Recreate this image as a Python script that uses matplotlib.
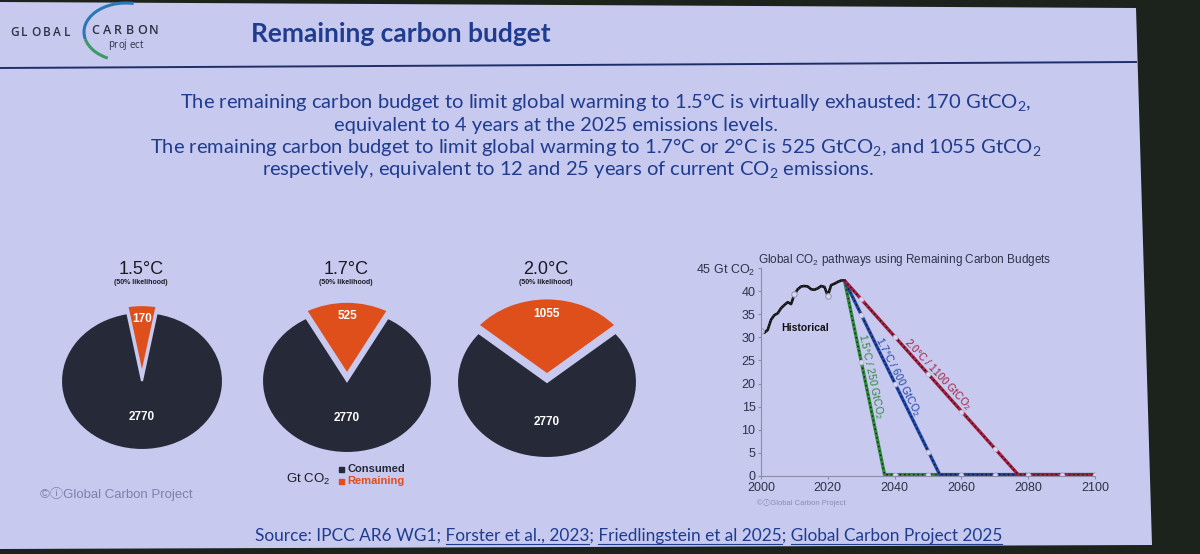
import matplotlib.pyplot as plt
from matplotlib.patches import Polygon, Arc, Rectangle

W, H = 1200, 554
SLIDE = '#c7c9ef'
OUTSIDE = '#1c221c'
NAVY = '#1f3c8e'
PIE_DARK = '#262938'
PIE_ORANGE = '#df4f1c'
GREEN = '#2f8a3c'
BLUE = '#1f45a8'
RED = '#a3203f'
SANS = ['Liberation Sans', 'Noto Sans CJK JP', 'DejaVu Sans']
SLIDEFONT = ['Lato', 'DejaVu Sans']

# ---- data ----
pie_titles = ['1.5°C', '1.7°C', '2.0°C']
consumed = [2770, 2770, 2770]
remaining = [170, 525, 1055]

hist_years = list(range(2000, 2026))
hist_vals = [31.4, 31.0, 31.6, 33.8, 34.8, 35.2, 36.3, 37.0, 37.6, 37.2,
             39.3, 40.4, 41.0, 41.1, 41.0, 40.4, 40.3, 40.6, 41.1, 40.9,
             39.0, 41.3, 41.6, 42.0, 42.3, 42.3]
hist_mark_years = [2000, 2010, 2020]
hist_mark_vals = [31.4, 39.3, 39.0]

path_labels = ['1.5°C / 250 GtCO$_\\mathregular{2}$',
               '1.7°C / 600 GtCO$_\\mathregular{2}$',
               '2.0°C / 1100 GtCO$_\\mathregular{2}$']
path_years = [[2025, 2037, 2100], [2025, 2053.5, 2100], [2025, 2077, 2100]]
path_vals = [[42.3, 0.3, 0.3], [42.3, 0.3, 0.3], [42.3, 0.3, 0.3]]
mark_years = [2030, 2040, 2050, 2060, 2070, 2080, 2090, 2100]
mark_vals = [[24.7, 0.3, 0.3, 0.3, 0.3, 0.3, 0.3, 0.3],
             [34.9, 20.0, 5.2, 0.3, 0.3, 0.3, 0.3, 0.3],
             [38.2, 30.1, 22.0, 13.9, 5.8, 0.3, 0.3, 0.3]]
path_colors = [GREEN, BLUE, RED]

body_lines = [
    'The remaining carbon budget to limit global warming to 1.5°C is virtually exhausted: 170 GtCO$_\\mathregular{2}$,',
    'equivalent to 4 years at the 2025 emissions levels.',
    'The remaining carbon budget to limit global warming to 1.7°C or 2°C is 525 GtCO$_\\mathregular{2}$, and 1055 GtCO$_\\mathregular{2}$',
    'respectively, equivalent to 12 and 25 years of current CO$_\\mathregular{2}$ emissions.',
]
source_parts = ['Source: IPCC AR6 WG1; ', 'Forster et al., 2023', '; ',
                'Friedlingstein et al 2025', '; ', 'Global Carbon Project 2025']

fig = plt.figure(figsize=(12, 5.54), dpi=100, facecolor=OUTSIDE)
bg = fig.add_axes([0, 0, 1, 1])
bg.set_xlim(0, W)
bg.set_ylim(H, 0)
bg.axis('off')
bg.set_facecolor(OUTSIDE)
bg.add_patch(Polygon([(0, 2), (1136, 8), (1152, 545), (0, 549)], closed=True,
                     facecolor=SLIDE, edgecolor='none'))
bg.plot([0, 1136], [68, 62], color='#1d2f6a', lw=1.4)

# logo
for i, ch in enumerate('GLOBAL'):
    bg.text(10 + i * 10.8, 33, ch, fontsize=8.5, color='#2b3344', fontweight='semibold',
            family=['Open Sans'], va='center')
for i, ch in enumerate('CARBON'):
    bg.text(91 + i * 11.6, 31, ch, fontsize=9, color='#2b3344', fontweight='semibold',
            family=['Open Sans'], va='center')
for i, ch in enumerate('project'):
    bg.text(108 + i * 5.3, 45, ch, fontsize=7, color='#2b3344',
            family=['Open Sans'], va='center')
bg.add_patch(Arc((126, 32), 84, 58, theta1=170, theta2=285, color='#2a77b8', lw=2.2))
bg.add_patch(Arc((126, 32), 84, 58, theta1=125, theta2=170, color='#3c9a62', lw=2.2))

bg.text(401, 34, 'Remaining carbon budget', fontsize=19, fontweight='bold',
        color=NAVY, family=SLIDEFONT, ha='center', va='center')

for txt, cx, cy in zip(body_lines, [606, 556, 596, 568], [103, 125, 148, 170]):
    bg.text(cx, cy, txt, fontsize=14.5, color=NAVY, family=SLIDEFONT,
            ha='center', va='center')

# source line with underlines
renderer = fig.canvas.get_renderer()
src = ''.join(source_parts)
sx, sy = 255, 541
bg.text(sx, sy, src, fontsize=12.4, color=NAVY, family=SLIDEFONT, va='baseline')
prefix = ''
for i, part in enumerate(source_parts):
    prefix += part
    if i % 2 == 1:
        t1 = bg.text(0, 0, prefix, fontsize=12.4, family=SLIDEFONT)
        t2 = bg.text(0, 0, part, fontsize=12.4, family=SLIDEFONT)
        x1 = sx + t1.get_window_extent(renderer).width
        x0 = x1 - t2.get_window_extent(renderer).width
        t1.remove()
        t2.remove()
        bg.plot([x0, x1], [sy + 2.5, sy + 2.5], color=NAVY, lw=0.8)

# pies (drawn slightly squashed, as the photographed slide shows them)
pie_geom = [(142, 381, 81, 69), (347, 381, 85, 72), (547, 382, 90, 76)]
for i, (cx, cy, rx, ry) in enumerate(pie_geom):
    s = 1.45
    ax = fig.add_axes([(cx - s * rx) / W, 1 - (cy + s * ry) / H, 2 * s * rx / W, 2 * s * ry / H])
    frac = remaining[i] / (remaining[i] + consumed[i])
    ax.pie([remaining[i], consumed[i]], colors=[PIE_ORANGE, PIE_DARK],
           startangle=90 - 180 * frac, explode=[0.1, 0],
           wedgeprops=dict(edgecolor=SLIDE, linewidth=1.5))
    ax.set_aspect('auto')
    ax.set_xlim(-s, s)
    ax.set_ylim(-s, s)
    ax.patch.set_alpha(0)
    ax.text(0, 0.9, str(remaining[i]), color='white', fontsize=8.5,
            fontweight='bold', family=SANS, ha='center', va='center')
    ax.text(0, -0.52, str(consumed[i]), color='white', fontsize=8.5,
            fontweight='bold', family=SANS, ha='center', va='center')
    bg.text(cx - 1, 270, pie_titles[i], fontsize=13, color='#1a1a24',
            family=SANS, ha='center', va='center')
    bg.text(cx - 1, 282, '(50% likelihood)', fontsize=5, fontweight='bold',
            color='#1a1a24', family=SANS, ha='center', va='center')

# pie legend
bg.text(286, 479, 'Gt CO$_\\mathregular{2}$', fontsize=9.5, color='#1a1a24',
        family=SANS, va='center')
bg.add_patch(Rectangle((339, 467), 5, 5, color=PIE_DARK))
bg.add_patch(Rectangle((339, 479), 5, 5, color=PIE_ORANGE))
bg.text(347, 469, 'Consumed', fontsize=8, fontweight='bold', color=PIE_DARK,
        family=SANS, va='center')
bg.text(347, 481, 'Remaining', fontsize=8, fontweight='bold', color=PIE_ORANGE,
        family=SANS, va='center')
bg.text(40, 494, '©ⓘGlobal Carbon Project', fontsize=9.5, color='#7f82a8',
        family=SANS, va='center')

# line chart
ax = fig.add_axes([761 / W, 1 - 476 / H, (1095 - 761) / W, (476 - 268) / H])
ax.patch.set_alpha(0)
ax.set_xlim(2000, 2100)
ax.set_ylim(0, 45)
for sp in ['top', 'right']:
    ax.spines[sp].set_visible(False)
for sp in ['left', 'bottom']:
    ax.spines[sp].set_color('#8c8ca6')
    ax.spines[sp].set_linewidth(0.8)
ax.set_xticks([2000, 2020, 2040, 2060, 2080, 2100])
ax.set_yticks(list(range(0, 50, 5)))
ax.set_yticklabels([str(v) for v in range(0, 45, 5)] + ['45 Gt CO$_\\mathregular{2}$'])
ax.tick_params(length=2, color='#8c8ca6', labelsize=9, labelcolor='#30324a', pad=2)
for lab in ax.get_xticklabels() + ax.get_yticklabels():
    lab.set_family(SANS)

ax.plot(hist_years, hist_vals, color='#111111', lw=1.9)
ax.plot(hist_years, hist_vals, color='#5a5a70', lw=0.6, ls=(0, (1, 2.5)))
ax.plot(hist_mark_years, hist_mark_vals, 'o', ms=4, mfc='#d6d7f2', mec='#9a9ab4', mew=0.8)
for yrs, vals, my, c in zip(path_years, path_vals, mark_vals, path_colors):
    ax.plot(yrs, vals, color=c, lw=2.4, solid_capstyle='butt')
    ax.plot(yrs, vals, color='#151515', lw=1.0, ls=(0, (1, 2.2)))
    ax.plot(mark_years, my, 'o', ms=3.5, mfc='#d6d7f2', mec='#b8b9d6', mew=0.6)

label_pos = [(2033.0, 21.5, -78), (2041.0, 21.5, -63), (2053.0, 22.0, -47)]
for (x, y, rot), lab, c in zip(label_pos, path_labels, path_colors):
    ax.text(x, y, lab, color=c, fontsize=7.5, family=SANS, rotation=rot,
            rotation_mode='anchor', ha='center', va='center')
ax.text(2006, 32, 'Historical', fontsize=7.5, fontweight='bold', color='#111111',
        family=SANS, va='center')
ax.set_title('Global CO$_\\mathregular{2}$ pathways using Remaining Carbon Budgets',
             fontsize=8.5, color='#30324a', family=SANS, loc='left', pad=2,
             x=-0.01)
bg.text(757, 503, '©ⓘGlobal Carbon Project', fontsize=5.5, color='#8a8cb0',
        family=SANS, va='center')

fig.savefig('out.png', dpi=100, facecolor=OUTSIDE)
